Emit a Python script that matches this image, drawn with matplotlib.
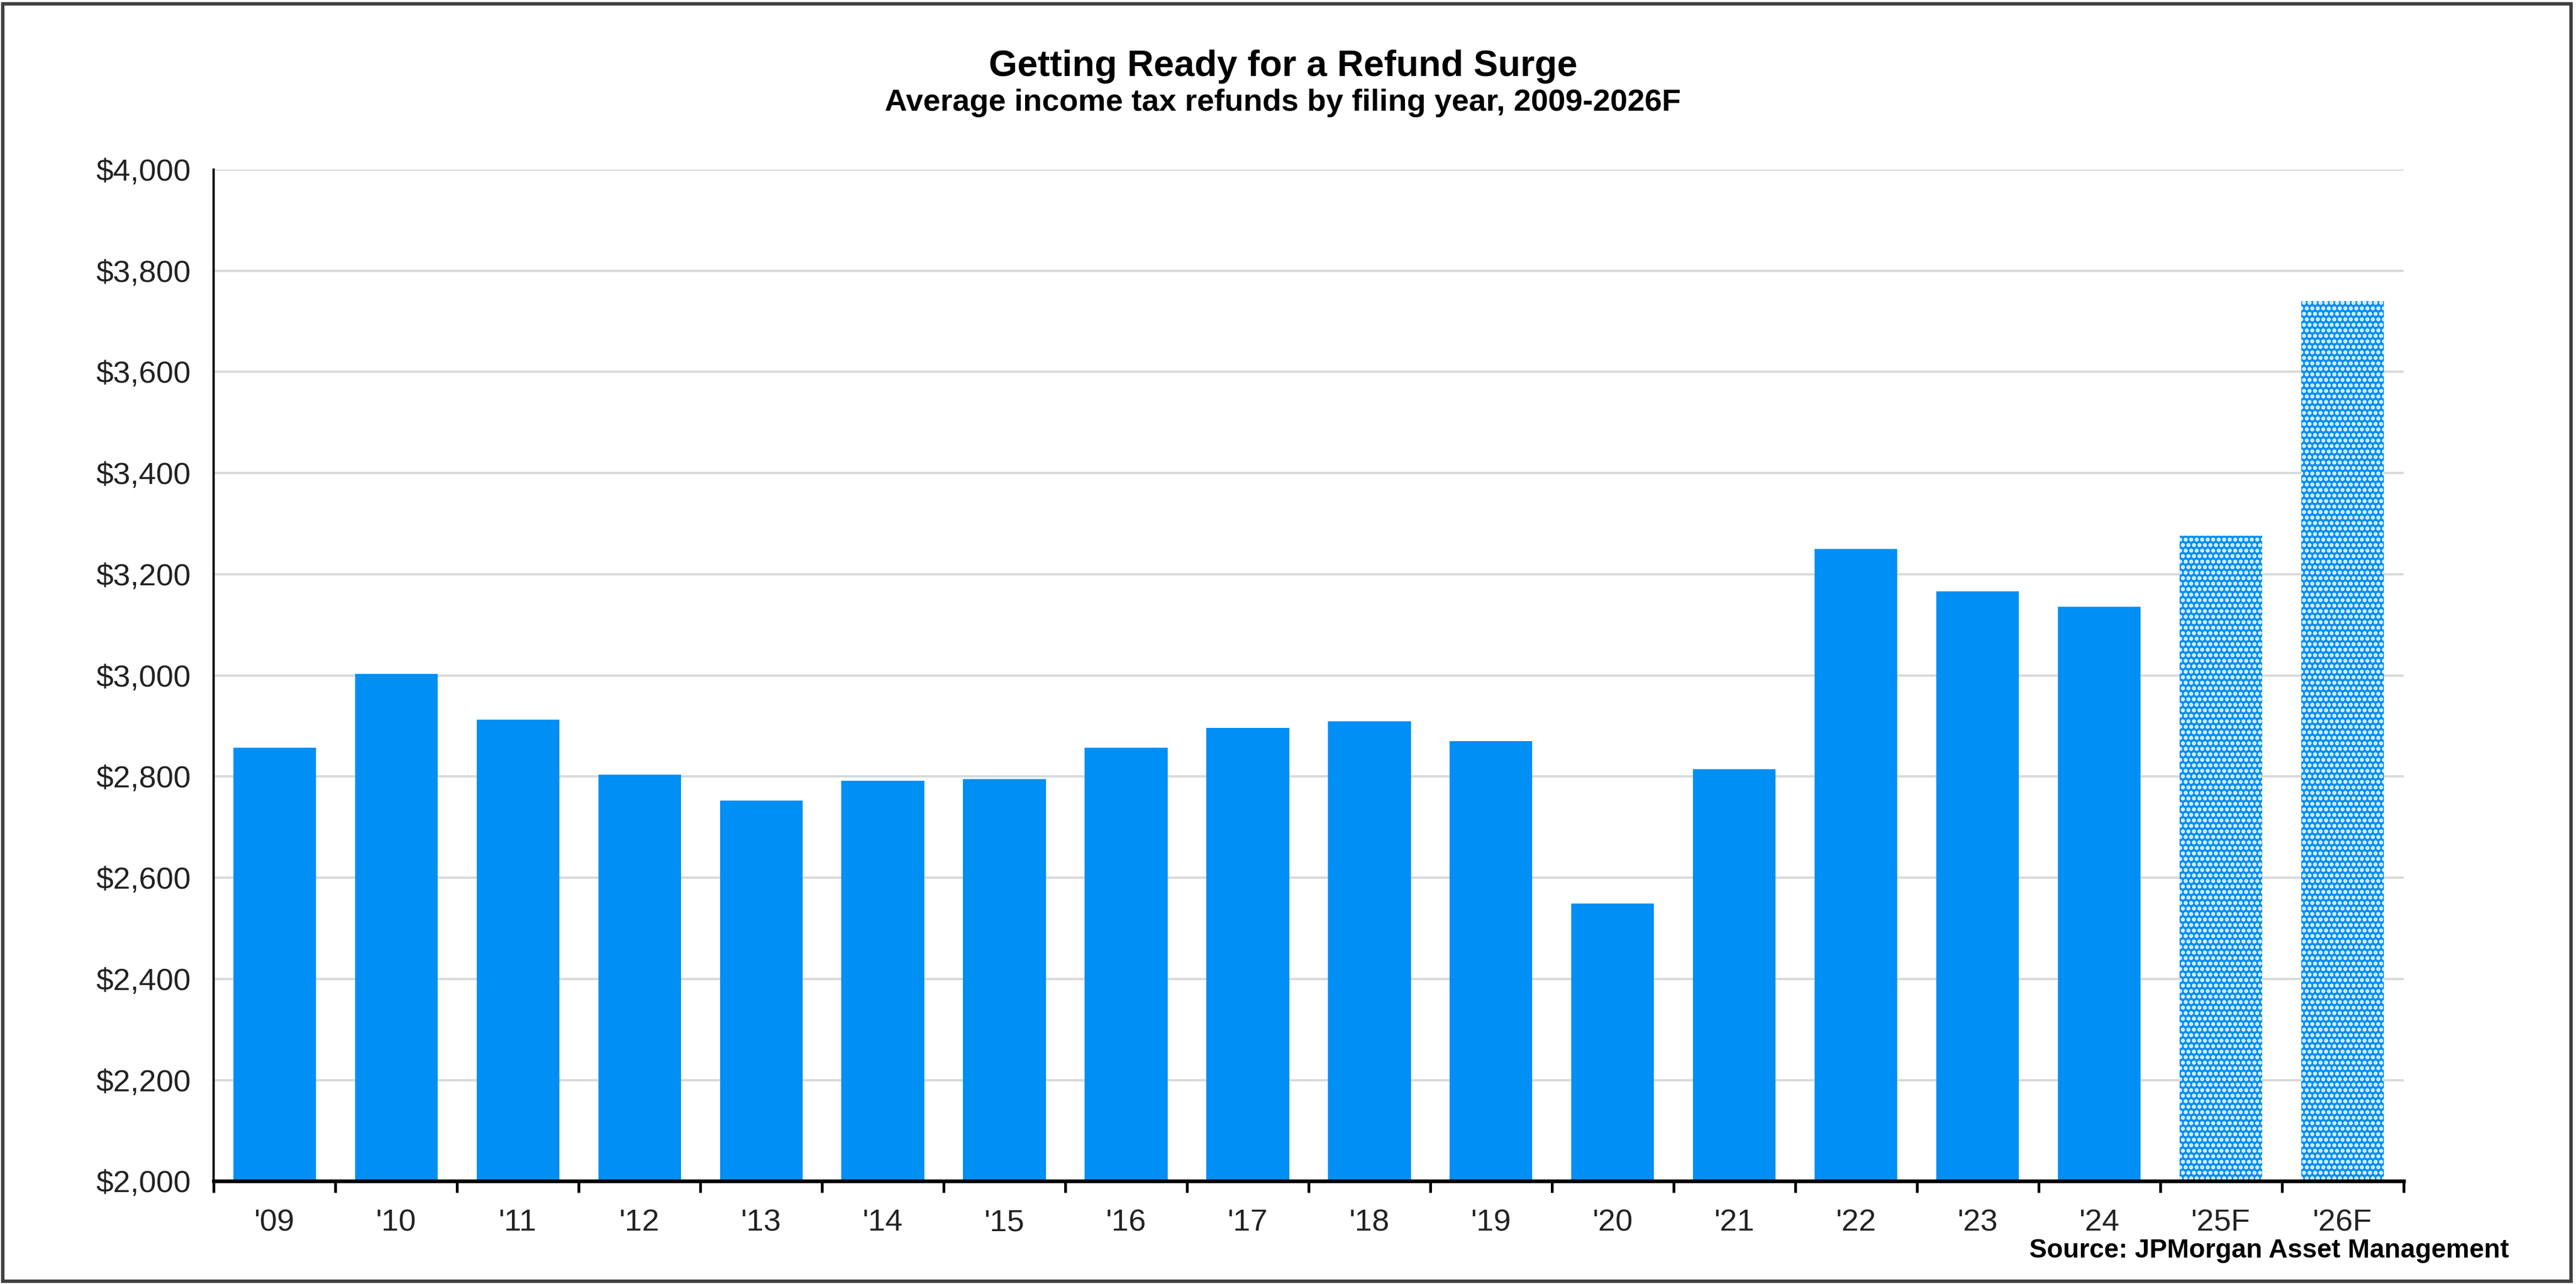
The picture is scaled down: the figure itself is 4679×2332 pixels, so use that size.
#!/usr/bin/env python3
import matplotlib
matplotlib.use("Agg")
import matplotlib.pyplot as plt
from matplotlib.patches import Rectangle
from matplotlib.ticker import FuncFormatter, MultipleLocator

# Average refund by filing year
years = ["'09", "'10", "'11", "'12", "'13", "'14", "'15", "'16", "'17",
         "'18", "'19", "'20", "'21", "'22", "'23", "'24", "'25F", "'26F"]
refunds = [2857, 3003, 2912, 2804, 2753, 2792, 2795, 2857, 2896,
           2909, 2870, 2549, 2815, 3250, 3166, 3136, 3276, 3740]
forecast = [False] * 16 + [True, True]

BLUE = "#008FF5"

plt.rcParams['font.family'] = ['Liberation Sans', 'DejaVu Sans']
plt.rcParams['hatch.linewidth'] = 1.2

fig = plt.figure(figsize=(4679 / 300, 2332 / 300), dpi=300)
ax = fig.add_axes([0.083, 0.080, 0.850, 0.788])

x = list(range(len(years)))
for xi, val, fc in zip(x, refunds, forecast):
  if fc:
    ax.bar(xi, val - 2000, bottom=2000, width=0.68, color=BLUE,
           edgecolor="white", linewidth=0, hatch=".....", zorder=3)
  else:
    ax.bar(xi, val - 2000, bottom=2000, width=0.68, color=BLUE,
           linewidth=0, zorder=3)

ax.set_xlim(-0.5, len(years) - 0.5)
ax.set_ylim(2000, 4000)
ax.yaxis.set_major_locator(MultipleLocator(200))
ax.yaxis.set_major_formatter(FuncFormatter(lambda v, p: "${:,.0f}".format(v)))

ax.set_xticks(x)
ax.set_xticklabels(years)
ax.set_xticks([i - 0.5 for i in range(len(years) + 1)], minor=True)
ax.tick_params(axis="x", which="major", length=0, pad=12, labelsize=13.5, colors="#222222")
ax.tick_params(axis="x", which="minor", length=5, width=1.2, color="black")
ax.tick_params(axis="y", length=0, pad=10, labelsize=13.5, colors="#222222")

ax.grid(axis="y", color="#D9D9D9", linewidth=1.0, zorder=0)
ax.set_axisbelow(True)
for s in ["top", "right"]:
  ax.spines[s].set_visible(False)
ax.spines["left"].set_linewidth(1.0)
ax.spines["bottom"].set_linewidth(1.6)
ax.spines["bottom"].set_zorder(4)

fig.text(0.498, 0.948, "Getting Ready for a Refund Surge", ha="center", va="center",
         fontsize=16, fontweight="bold")
fig.text(0.498, 0.920, "Average income tax refunds by filing year, 2009-2026F",
         ha="center", va="center", fontsize=13.5, fontweight="bold")
fig.text(0.974, 0.026, "Source: JPMorgan Asset Management", ha="right", va="center",
         fontsize=11.5, fontweight="bold",
         family=['Liberation Sans Narrow', 'Liberation Sans', 'DejaVu Sans'])

# outer frame
fig.patches.append(Rectangle((0.001, 0.002), 0.997, 0.995, transform=fig.transFigure,
                             fill=False, edgecolor="#404040", linewidth=1.5))

fig.savefig("out.png", dpi=300)
